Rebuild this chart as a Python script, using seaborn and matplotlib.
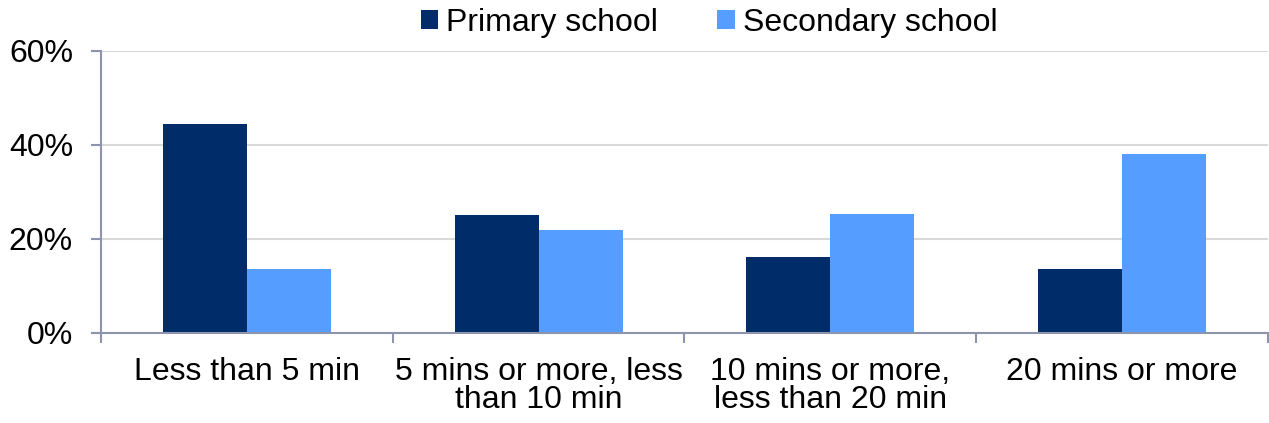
import matplotlib
matplotlib.use("Agg")
import matplotlib.pyplot as plt
import seaborn as sns
import pandas as pd
import numpy as np
from matplotlib.ticker import FuncFormatter, FixedLocator

categories = [
    "Less than 5 min",
    "5 mins or more, less\nthan 10 min",
    "10 mins or more,\nless than 20 min",
    "20 mins or more",
]
series_names = ["Primary school", "Secondary school"]
primary = [44.5, 25.0, 16.2, 13.7]
secondary = [13.7, 22.0, 25.4, 38.1]
y_ticks = [0, 20, 40, 60]

colors = ["#002D69", "#559EFF"]
axis_color = "#8E94AC"

df = pd.DataFrame({
    "category": categories * 2,
    "school": [series_names[0]] * 4 + [series_names[1]] * 4,
    "value": primary + secondary,
})

sns.set_style("white")
plt.rcParams["font.family"] = ["Liberation Sans", "DejaVu Sans"]
plt.rcParams["text.color"] = "black"

fig = plt.figure(figsize=(12.69, 4.23), dpi=100)
ax = fig.add_axes([0.0796, 0.2128, 0.9196, 0.6672])

sns.barplot(data=df, x="category", y="value", hue="school", order=categories,
            hue_order=series_names, palette=colors, width=0.575,
            saturation=1, linewidth=0, ax=ax, legend=True)

ax.set_ylim(0, 60)
ax.set_xlim(-0.5, len(categories) - 0.5)
ax.yaxis.set_major_locator(FixedLocator(y_ticks))
ax.yaxis.set_major_formatter(FuncFormatter(lambda v, p: f"{v:.0f}%"))
ax.grid(axis="y", color="#D9D9D9", linewidth=1.5)
ax.set_axisbelow(True)

for side in ["top", "right"]:
    ax.spines[side].set_visible(False)
for side in ["left", "bottom"]:
    ax.spines[side].set_color(axis_color)
    ax.spines[side].set_linewidth(1.5)

ax.tick_params(axis="y", which="major", direction="out", length=7.2, width=1.5,
               color=axis_color, pad=13, labelsize=23, labelcolor="black", left=True)
ax.tick_params(axis="x", which="major", length=0, pad=17, labelsize=23, labelcolor="black")
ax.set_xticks(np.arange(-0.5, len(categories)), minor=True)
ax.tick_params(axis="x", which="minor", direction="out", length=7.2, width=1.5,
               color=axis_color, bottom=True)
for lbl in ax.get_xticklabels():
    lbl.set_linespacing(0.92)

ax.set_xlabel("")
ax.set_ylabel("")

handles, labels = ax.get_legend_handles_labels()
ax.legend(handles, labels, loc="center", bbox_to_anchor=(0.521, 1.10), ncol=2,
          frameon=False, fontsize=23, handlelength=0.55, handleheight=0.55,
          handletextpad=0.25, columnspacing=1.85, borderaxespad=0, borderpad=0,
          labelcolor="black")

fig.savefig("out.png", dpi=100)
